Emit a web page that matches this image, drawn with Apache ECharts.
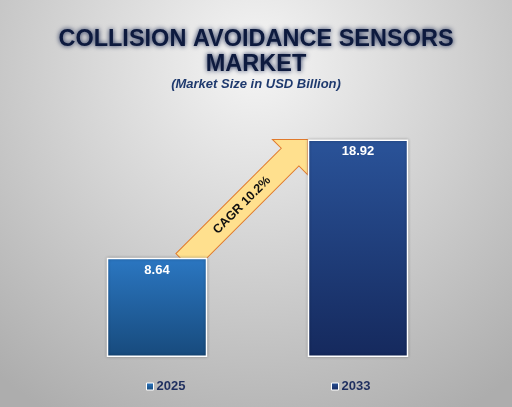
<!DOCTYPE html>
<html>
<head>
<meta charset="utf-8">
<script src="https://cdn.jsdelivr.net/npm/echarts@6/dist/echarts.min.js"></script>
<style>
html,body{margin:0;padding:0;}
#c{width:512px;height:407px;}
</style>
</head>
<body>
<div id="c"></div>
<script>
const years = ['2025', '2033'];
const values = [8.64, 18.92];
const cagrText = 'CAGR 10.2%';
const titleText = 'COLLISION AVOIDANCE SENSORS\nMARKET';
const subtitleText = '(Market Size in USD Billion)';

const barColors = [
  ['#2b77c2', '#174a7c'],
  ['#2a5399', '#15295d']
];

const chart = echarts.init(document.getElementById('c'));
const FONT = '"Liberation Sans", Arial, sans-serif';

const series = years.map((y, i) => ({
  name: y,
  type: 'bar',
  barWidth: '50%',
  barGap: '-100%',
  data: years.map((_, j) => (j === i ? values[i] : '-')),
  itemStyle: {
    color: new echarts.graphic.LinearGradient(0, 0, 0, 1, [
      { offset: 0, color: barColors[i][0] },
      { offset: 1, color: barColors[i][1] }
    ]),
    borderColor: '#ffffff',
    borderWidth: 1.5,
    shadowBlur: 3,
    shadowColor: 'rgba(0,0,0,0.3)'
  },
  label: {
    show: true,
    position: 'insideTop',
    distance: 6,
    color: '#ffffff',
    fontFamily: FONT,
    fontWeight: 'bold',
    fontSize: 13,
    formatter: p => values[p.dataIndex].toFixed(2)
  }
}));

const legendBase = {
  icon: 'rect',
  itemWidth: 7,
  itemHeight: 7,
  itemGap: 4,
  top: 375,
  itemStyle: { borderColor: '#ffffff', borderWidth: 1 },
  textStyle: { color: '#1f2f5f', fontFamily: FONT, fontWeight: 'bold', fontSize: 13, padding: [0, 0, 0, -2] }
};

chart.setOption({
  animation: false,
  backgroundColor: {
    type: 'radial', x: 0.5, y: 0.15, r: 1.0,
    colorStops: [
      { offset: 0, color: '#f5f5f5' },
      { offset: 1, color: '#adadad' }
    ]
  },
  title: [
    {
      text: titleText,
      left: 'center',
      top: 22,
      textStyle: {
        fontFamily: FONT, fontSize: 23.5, fontWeight: 'bold', color: '#0d1a3e',
        lineHeight: 25,
        textShadowColor: 'rgba(15,30,75,1)', textShadowBlur: 5
      }
    },
    {
      text: subtitleText,
      left: 'center',
      top: 73,
      textStyle: {
        fontFamily: FONT, fontSize: 13, fontWeight: 'bold', fontStyle: 'italic', color: '#1f3a6e'
      }
    }
  ],
  legend: [
    Object.assign({}, legendBase, { data: [years[0]], left: 141 }),
    Object.assign({}, legendBase, { data: [years[1]], left: 326 })
  ],
  grid: { left: 56.5, right: 53.5, top: 127, bottom: 50 },
  xAxis: {
    type: 'category',
    data: years,
    axisLine: { show: false },
    axisTick: { show: false },
    axisLabel: { show: false },
    splitLine: { show: false }
  },
  yAxis: {
    type: 'value',
    min: 0,
    max: 20,
    show: false,
    splitLine: { show: false }
  },
  series: series
});

function drawArrow() {
  const bandW = chart.convertToPixel({ xAxisIndex: 0 }, years[1]) - chart.convertToPixel({ xAxisIndex: 0 }, years[0]);
  const c2 = chart.convertToPixel({ xAxisIndex: 0 }, years[1]);
  const topY2 = chart.convertToPixel({ yAxisIndex: 0 }, values[1]);
  const tipX = c2 - bandW * 0.25;
  const tipY = topY2;
  const L = 174;
  const headLen = 25, headHalf = 25, shaftHalf = 12.5;
  const tailX = tipX - L / Math.SQRT2;
  const tailY = tipY + L / Math.SQRT2;
  chart.setOption({
    graphic: [{
      type: 'group',
      x: tailX,
      y: tailY,
      rotation: Math.PI / 4,
      children: [
        {
          type: 'polygon',
          shape: {
            points: [
              [0, -shaftHalf], [L - headLen, -shaftHalf], [L - headLen, -headHalf],
              [L, 0], [L - headLen, headHalf], [L - headLen, shaftHalf], [0, shaftHalf]
            ]
          },
          style: { fill: '#ffe08e', stroke: '#e07a2c', lineWidth: 1 }
        },
        {
          type: 'text',
          x: 81,
          y: 0,
          style: {
            text: cagrText,
            fill: '#111111',
            font: 'bold 12.5px ' + FONT,
            textAlign: 'center',
            textVerticalAlign: 'middle'
          }
        }
      ]
    }]
  });
}
drawArrow();
</script>
</body>
</html>
